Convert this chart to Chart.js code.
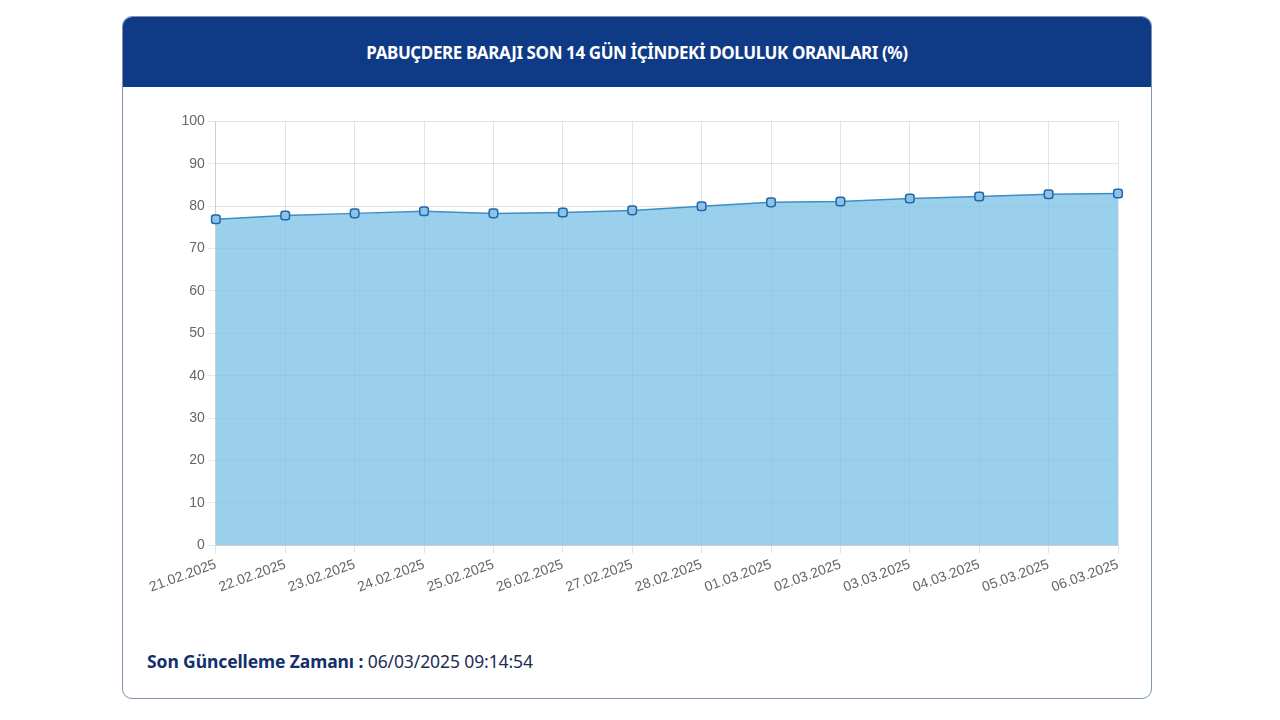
<!DOCTYPE html>
<html lang="tr">
<head>
<meta charset="utf-8">
<script src="https://cdn.jsdelivr.net/npm/chart.js@4.4.1/dist/chart.umd.min.js"></script>
<style>
  body { margin: 0; background: #fff; font-family: "Noto Sans", sans-serif; }
  .card {
    position: absolute; left: 122px; top: 16px; width: 1028px; height: 681px;
    border: 1px solid #7f93ad; border-radius: 10px; overflow: hidden; background: #fff;
  }
  .card-header {
    height: 70px; background: #0f3a85; color: #fff;
    display: flex; align-items: center; justify-content: center;
    font-weight: 700; font-size: 17px; letter-spacing: -0.4px;
  }
  .chart-wrap { position: absolute; left: 24px; top: 93px; width: 991px; height: 489px; }
  .footer { position: absolute; left: 24px; top: 632px; font-size: 17.5px; color: #1d2d54; letter-spacing: -0.1px; }
  .footer b { color: #13306b; }
</style>
</head>
<body>
<div class="card">
  <div class="card-header">PABUÇDERE BARAJI SON 14 GÜN İÇİNDEKİ DOLULUK ORANLARI (%)</div>
  <div class="chart-wrap"><canvas id="chart"></canvas></div>
  <div class="footer"><b>Son Güncelleme Zamanı :</b> 06/03/2025 09:14:54</div>
</div>
<script>
const dates = ["21.02.2025", "22.02.2025", "23.02.2025", "24.02.2025", "25.02.2025", "26.02.2025", "27.02.2025",
  "28.02.2025", "01.03.2025", "02.03.2025", "03.03.2025", "04.03.2025", "05.03.2025", "06.03.2025"];
const fillRates = [76.9, 77.8, 78.3, 78.8, 78.3, 78.5, 79.0, 80.0, 80.9, 81.1, 81.8, 82.3, 82.8, 83.0];
const yTicks = [0, 10, 20, 30, 40, 50, 60, 70, 80, 90, 100];

const ctx = document.getElementById("chart").getContext("2d");
new Chart(ctx, {
  type: "line",
  data: {
    labels: dates,
    datasets: [{
      data: fillRates,
      fill: true,
      backgroundColor: "rgba(120, 192, 230, 0.75)",
      borderColor: "#3d8fc6",
      borderWidth: 1.5,
      tension: 0,
      pointStyle: "rectRounded",
      pointRadius: 5,
      pointBackgroundColor: "#8cc3e8",
      pointBorderColor: "#2566a8",
      pointBorderWidth: 1.5
    }]
  },
  options: {
    responsive: true,
    maintainAspectRatio: false,
    animation: false,
    plugins: { legend: { display: false }, tooltip: { enabled: false } },
    layout: { padding: { left: 0, right: 20, top: 10, bottom: 0 } },
    scales: {
      x: {
        grid: { color: "rgba(0,0,0,0.1)" },
        ticks: { color: "#666", font: { family: "Liberation Sans, Arial", size: 14 }, minRotation: 20, maxRotation: 20 }
      },
      y: {
        min: 0,
        max: 100,
        afterBuildTicks: (axis) => { axis.ticks = yTicks.map(v => ({ value: v })); },
        grid: { color: "rgba(0,0,0,0.1)" },
        ticks: { color: "#666", font: { family: "Liberation Sans, Arial", size: 14 } }
      }
    }
  }
});
</script>
</body>
</html>
